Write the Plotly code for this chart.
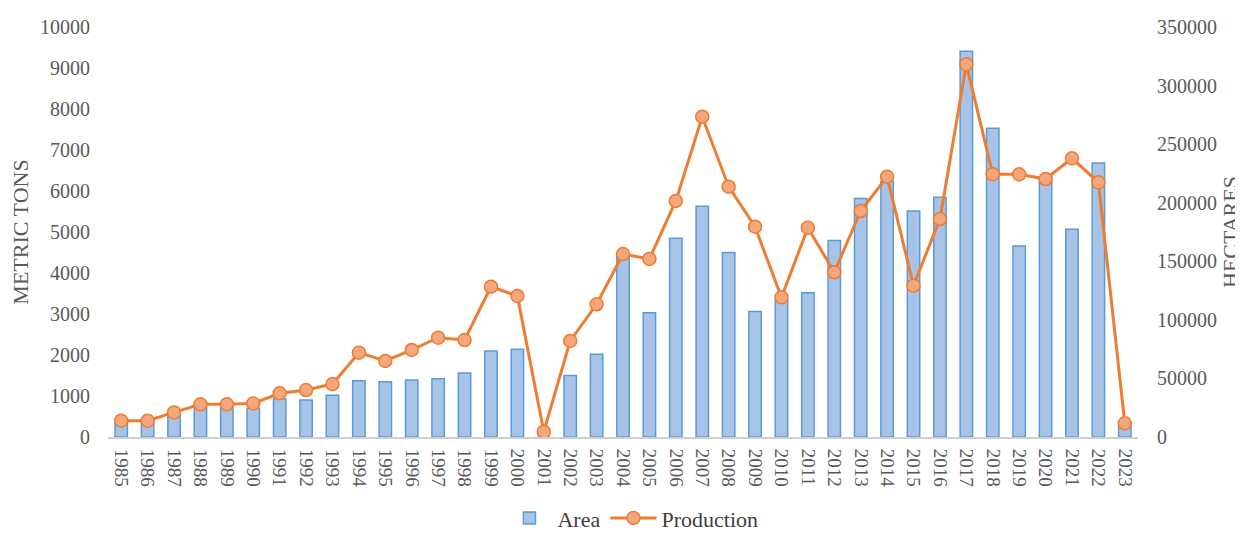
import plotly.graph_objects as go

years = [str(y) for y in range(1985, 2024)]
area = [380, 380, 590, 780, 730, 700, 930, 900, 1020, 1370, 1350, 1390, 1420, 1560,
        2100, 2140, 0, 1500, 2020, 4440, 3030, 4850, 5630, 4500, 3060, 3350, 3520,
        4790, 5820, 6230, 5510, 5850, 9410, 7530, 4660, 6350, 5070, 6680, 290]
production = [13900, 13900, 21000, 27900, 27900, 28700, 37300, 40100, 45200, 72000,
              64900, 74300, 84800, 82800, 128300, 120400, 4500, 82000, 113300, 156200,
              152000, 201500, 273400, 213700, 179500, 119200, 178700, 140600, 192900,
              222200, 129200, 186100, 318100, 224200, 224200, 220200, 237900, 217400, 11700]
left_ticks = [0, 1000, 2000, 3000, 4000, 5000, 6000, 7000, 8000, 9000, 10000]
right_ticks = [0, 50000, 100000, 150000, 200000, 250000, 300000, 350000]

FONT = "Liberation Serif"
GRAY = "#595959"

fig = go.Figure()
fig.add_trace(go.Bar(
    x=years, y=area, name="Area",
    marker=dict(color="#a7c4e8", line=dict(color="#5b9bd5", width=1.5)),
    yaxis="y",
))
fig.add_trace(go.Scatter(
    x=years, y=production, name="Production", mode="lines+markers",
    line=dict(color="#ed7d31", width=3),
    marker=dict(symbol="circle", size=13, color="#f4a77c",
                line=dict(color="#ed7d31", width=1.5)),
    yaxis="y2",
))

# page body has an 8px default margin, so the figure is 8px smaller than the window
fig.update_layout(
    width=1235, height=526,
    margin=dict(l=100, r=105, t=19, b=97, autoexpand=False),
    plot_bgcolor="white", paper_bgcolor="white",
    font=dict(family=FONT, color=GRAY, size=19),
    bargap=0.53,
    showlegend=True,
    legend=dict(orientation="h", x=0.382, xanchor="left", y=-0.198, yanchor="middle",
                font=dict(family=FONT, size=22, color="#404040"),
                itemwidth=46, traceorder="normal", tracegroupgap=0,
                borderwidth=0),
    xaxis=dict(type="category", range=[-0.5, 38.5], tickangle=90, showgrid=False,
               showline=True, linecolor="#d0d0d0", linewidth=2,
               ticks="", ticklabelstandoff=6,
               tickfont=dict(family=FONT, size=19, color=GRAY),
               automargin=False),
    yaxis=dict(range=[0, 10000], tickvals=left_ticks, ticktext=[str(v) for v in left_ticks],
               showgrid=False, zeroline=False, showline=False, ticks="",
               ticklabelstandoff=17,
               tickfont=dict(family=FONT, size=20, color=GRAY),
               title=dict(text="METRIC TONS", font=dict(family=FONT, size=22, color=GRAY),
                          standoff=6),
               automargin=False),
    yaxis2=dict(range=[0, 350000], tickvals=right_ticks, ticktext=[str(v) for v in right_ticks],
                overlaying="y", side="right",
                showgrid=False, zeroline=False, showline=False, ticks="",
                ticklabelstandoff=18,
                tickfont=dict(family=FONT, size=20, color=GRAY),
                title=dict(text="HECTARES", font=dict(family=FONT, size=22, color=GRAY),
                           standoff=10),
                automargin=False),
)

fig.write_html("out.html")
